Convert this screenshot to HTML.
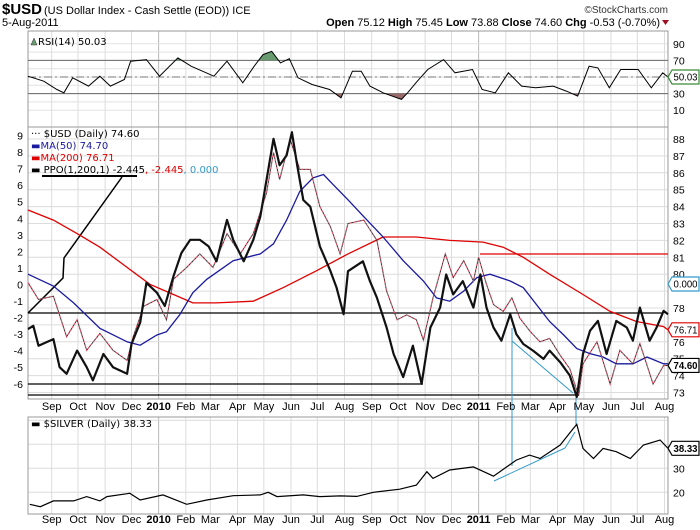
<!DOCTYPE html>
<html><head><meta charset="utf-8"><style>
html,body{margin:0;padding:0;background:#fff;}
svg{display:block;font-family:"Liberation Sans",sans-serif;}
.t{font-size:11px;fill:#000;}
.ax{font-size:10.5px;fill:#000;}
.tg{font-size:10px;fill:#000;}
.lg{font-family:"DejaVu Sans",sans-serif;font-size:10px;}
</style></head><body>
<svg id="chart" width="700" height="530" viewBox="0 0 700 530">
<g>
<text x="2" y="14" style="font-size:15px;font-weight:bold">$USD</text>
<text x="44" y="14" style="font-size:11px">(US Dollar Index - Cash Settle (EOD)) ICE</text>
<text x="668" y="13" text-anchor="end" style="font-size:10px;fill:#333">©StockCharts.com</text>
<text x="2" y="26" style="font-size:11px">5-Aug-2011</text>
<text x="660" y="26" text-anchor="end" style="font-size:11px"><tspan font-weight="bold">Open</tspan> 75.12 <tspan font-weight="bold">High</tspan> 75.45 <tspan font-weight="bold">Low</tspan> 73.88 <tspan font-weight="bold">Close</tspan> 74.60 <tspan font-weight="bold">Chg</tspan> -0.53 (-0.70%)</text>
<polygon points="662,20 669,20 665.5,25" fill="#a01020"/>
</g>
<g id="grid"></g>
<g id="marks"></g>
<g id="axes"></g>
</svg>
<script>
// ---------- data ----------
const startDate = "2009-08-05";
const ppoDays = [0,6,12,29,36,44,56,67,74,86,97,113,118,128,135,147,156,166,175,185,196,206,215,227,234,246,257,265,280,287,295,301,307,314,322,333,345,352,360,365,382,390,398,409,417,428,439,449,459,470,477,485,496,508,516,523,531,540,550,557,565,576,588,595,607,618,626,633,641,650,660,671,683,690,698,709,717,725,730];
const ppoValues = [-2.7,-2.5,-3.7,-3.3,-5.0,-5.4,-4.0,-5.0,-5.8,-4.2,-5.0,-5.4,-3.6,-2.3,0.1,-0.5,-1.3,0.5,1.9,2.7,2.7,2.3,1.4,3.9,2.7,1.4,2.7,4.1,8.8,7.2,7.8,9.2,7.2,5.1,4.7,2.3,0.8,-0.2,-1.8,0.8,1.4,0.2,-0.8,-2.6,-4.2,-5.6,-3.7,-6.0,-2.6,-1.4,0.6,-0.6,0.2,-1.4,0.6,-1.4,-2.6,-3.4,-1.8,-3.0,-3.6,-4.0,-4.5,-4.0,-4.7,-5.5,-6.8,-4.2,-2.8,-2.2,-4.2,-2.2,-2.6,-3.4,-1.4,-3.4,-2.6,-1.6,-1.8];
const priceDays = [0,12,29,44,56,67,82,97,113,120,132,147,158,166,181,196,211,227,242,257,272,280,287,299,310,322,333,345,356,365,383,398,409,421,432,443,451,462,476,485,497,508,514,523,531,542,552,561,573,584,595,607,618,628,633,649,664,675,690,698,713,725,730];
const priceValues = [79.5,78.5,78.7,76.3,77.3,75.5,76.5,75.5,74.9,76.3,78.1,78.5,77.3,79.7,80.4,81.2,80.4,82.4,81.2,82.4,84.8,87.2,85.6,88.0,86.2,86.2,84.0,82.8,81.2,83.0,83.2,82.0,79.0,77.3,77.6,77.3,76.1,78.6,81.2,79.8,80.8,79.6,81.0,79.4,78.2,77.8,78.6,77.4,76.6,76.0,76.2,75.2,74.4,72.8,74.7,76.0,73.5,75.5,74.7,75.9,73.5,74.6,74.6];
const ma50Days = [0,29,52,82,113,128,147,158,173,188,204,234,265,280,295,310,325,337,348,365,383,405,428,451,466,481,497,512,527,550,565,580,595,611,626,641,656,671,690,706,725,730];
const ma50Values = [80.0,79.3,78.3,76.8,76.0,75.8,76.4,76.6,77.6,78.9,79.7,80.8,81.2,81.8,83.2,84.9,85.7,85.9,85.3,84.4,83.4,82.2,80.8,79.6,78.6,78.4,79.0,79.8,80.0,79.6,79.2,78.2,77.2,76.4,75.6,75.3,75.1,74.7,74.7,75.1,74.7,74.7];
const ma200Days = [0,29,56,82,113,139,166,188,215,257,291,329,365,405,443,481,519,542,565,595,633,664,694,725,730];
const ma200Values = [83.8,83.2,82.4,81.6,80.4,79.4,78.8,78.3,78.3,78.4,79.2,80.2,81.2,82.2,82.2,82.0,81.9,81.6,81.0,80.0,78.8,77.8,77.2,76.9,76.71];
const rsiDays = [0,18,33,41,51,69,82,94,110,117,135,150,171,186,212,227,245,258,268,278,288,298,308,324,344,357,370,380,390,405,426,433,444,456,474,487,507,518,533,548,563,579,599,614,627,640,650,663,676,696,711,724,730];
const rsiValues = [51,45,35,31,49,39,51,39,47,69,71,51,73,63,51,69,43,63,77,81,67,72,49,41,35,25,57,57,39,31,23,31,45,59,71,55,59,35,31,55,39,37,39,33,27,63,61,37,59,59,37,55,50];
const silverDays = [2,14,29,52,67,82,90,116,128,154,181,204,234,265,274,284,314,333,356,375,394,424,443,455,462,481,508,531,557,572,584,607,622,626,633,645,656,671,687,702,721,730];
const silverValues = [15,14,16.4,16.4,18.2,16.4,18.2,19.6,16.8,18.9,15,16.8,18.6,18.9,20,18.2,18.9,18.2,18.5,18.3,20,21.3,23,28.6,25.8,29.3,30.6,26.7,33.4,35.5,34.1,39.7,46.6,48.3,38.3,34.1,38.3,36.9,34.1,39.7,41.8,38.3];
const rightTicks = [88,87,86,85,84,83,82,81,80,78,76,75,74,73];
const leftTicks = [9,8,7,6,5,4,3,2,1,0,-1,-2,-3,-4,-5,-6];
const rsiTicks = [90,70,30,10];
const silverTicks = [30,20];
const monthNames = ["Jan","Feb","Mar","Apr","May","Jun","Jul","Aug","Sep","Oct","Nov","Dec"];

// ---------- scales ----------
const X0=28, X1=668, SPAN=730;
const x = d => X0 + d*(X1-X0)/SPAN;
const yMain = p => 139 + (88-p)*16.9;
const yPPO = v => 135.5 + (9-v)*16.55;
const yRSI = v => 77 - (v-50)*0.83;
const yS = v => 444.3 + (40-v)*2.4;
const NS="http://www.w3.org/2000/svg";
const grid=document.getElementById('grid'), marks=document.getElementById('marks'), axes=document.getElementById('axes');
function mk(tag, attrs, parent){const e=document.createElementNS(NS,tag);for(const k in attrs)e.setAttribute(k,attrs[k]);parent.appendChild(e);return e;}
function pts(days, vals, fy){return days.map((d,i)=>x(d).toFixed(1)+','+fy(vals[i]).toFixed(1)).join(' ');}

const panels=[[31,127],[127,399],[417,514]];
const t0=new Date(startDate+"T00:00:00Z").getTime();
for(let y=2009;y<=2011;y++)for(let m=0;m<12;m++){
  const dd=(Date.UTC(y,m,1)-t0)/86400000;
  if(dd<0||dd>SPAN)continue;
  const xx=x(dd);
  panels.forEach(p=>{
    const l=mk('line',{x1:xx,x2:xx,y1:p[0],y2:p[1],stroke:m===0?'#b8b8b8':'#dcdcdc','stroke-width':1},grid);
    
    
  });
  const lab=m===0?String(y):monthNames[m];
  [410,523].forEach(yy=>{
    const t=mk('text',{x:xx,y:yy,'text-anchor':'middle',class:'t'},axes);
    if(m===0)t.setAttribute('font-weight','bold');
    t.textContent=lab;
    
    
  });
}
for(let v=73;v<=88;v++){const l=mk('line',{x1:X0,x2:X1,y1:yMain(v),y2:yMain(v),stroke:'#dcdcdc'},grid);
  }
for(let v=10;v<=90;v+=10){const l=mk('line',{x1:X0,x2:X1,y1:yRSI(v),y2:yRSI(v),stroke:'#e2e2e2'},grid);
  }
for(let v=20;v<=50;v+=10){const l=mk('line',{x1:X0,x2:X1,y1:yS(v),y2:yS(v),stroke:'#dcdcdc'},grid);
  }
panels.forEach(p=>{const r=mk('rect',{x:X0,y:p[0],width:X1-X0,height:p[1]-p[0],fill:'none',stroke:'#999'},grid);
  });

// ---------- RSI ----------
[[70,'#666','none'],[30,'#666','none'],[50,'#777','8,3,2,3']].forEach(a=>{
  const l=mk('line',{x1:X0,x2:X1,y1:yRSI(a[0]),y2:yRSI(a[0]),stroke:a[1],'stroke-dasharray':a[2]},marks);
  
});
const defs=mk('defs',{},marks);
const c1=mk('clipPath',{id:'above70'},defs);mk('rect',{x:X0,y:31,width:640,height:yRSI(70)-31},c1);
const c2=mk('clipPath',{id:'below30'},defs);mk('rect',{x:X0,y:yRSI(30),width:640,height:127-yRSI(30)},c2);
const rp=pts(rsiDays,rsiValues,yRSI);
const f1=mk('polygon',{points:x(0)+','+yRSI(70)+' '+rp+' '+x(730)+','+yRSI(70),fill:'#6a9a70','clip-path':'url(#above70)'},marks);

const f2=mk('polygon',{points:x(0)+','+yRSI(30)+' '+rp+' '+x(730)+','+yRSI(30),fill:'#9a6a6a','clip-path':'url(#below30)'},marks);

const rl=mk('polyline',{points:rp,fill:'none',stroke:'#000','stroke-width':1},marks);


// ---------- annotations ----------
function ln(a,b,c,d,col,w,name){const l=mk('line',{x1:a,y1:b,x2:c,y2:d,stroke:col,'stroke-width':w},marks);
  }
ln(28,313,663,313,'#000',1.2,'resistance-line');
ln(28,384,423,384,'#000',1.2,'support-line-1');
ln(28,395,576,395,'#000',1.2,'support-line-2');
ln(480,254,668,254,'#e00000',1.2,'red-resistance-line');
ln(512,328,512,466,'#3399cc',1,'annotation-vertical-1');
ln(576,395,576,426,'#3399cc',1,'annotation-vertical-2');
ln(512,341,573,393,'#3399cc',1,'annotation-trend-main');
const sig=mk('polyline',{points:'28,313 63,278 64,258 122,177',fill:'none',stroke:'#000','stroke-width':1.5},marks);

ln(42,176,137,176,'#000',2,'ppo-signal-bar');

// ---------- main series ----------
const m200=mk('polyline',{points:pts(ma200Days,ma200Values,yMain),fill:'none',stroke:'#e00000','stroke-width':1.3},marks);

const m50=mk('polyline',{points:pts(ma50Days,ma50Values,yMain),fill:'none',stroke:'#1a1aa0','stroke-width':1.3},marks);

const pr=pts(priceDays,priceValues,yMain);
const p1=mk('polyline',{points:pr,fill:'none',stroke:'#e04860','stroke-width':1.2,'stroke-dasharray':'2,2'},marks);

const p2=mk('polyline',{points:pr,fill:'none',stroke:'#333','stroke-width':1,'stroke-dasharray':'2,2','stroke-dashoffset':2},marks);

const pp=mk('polyline',{points:pts(ppoDays,ppoValues,yPPO),fill:'none',stroke:'#111','stroke-width':2.2,'stroke-linejoin':'round'},marks);


// ---------- silver ----------
ln(494,481,565,448,'#3399cc',1,'annotation-trend-silver');
ln(565,448,575,432,'#3399cc',1,'annotation-trend-silver-2');
ln(576,417,576,426,'#3399cc',1,'annotation-vertical-silver');
const sl=mk('polyline',{points:pts(silverDays,silverValues,yS),fill:'none',stroke:'#000','stroke-width':1.2},marks);


// ---------- axis tick labels ----------
function lab(xx,yy,txt,anchor,name){const t=mk('text',{x:xx,y:yy+4,'text-anchor':anchor,class:'ax'},axes);t.textContent=txt;
  }
rightTicks.forEach(v=>lab(673,yMain(v),String(v),'start','right-axis-label'));
leftTicks.forEach(v=>lab(23,yPPO(v),String(v),'end','left-axis-label'));
rsiTicks.forEach(v=>lab(673,yRSI(v),String(v),'start','rsi-axis-label'));
silverTicks.forEach(v=>lab(673,yS(v),String(v),'start','silver-axis-label'));

function tag(yy,txt,col,bold,name){
  const g=mk('g',{},axes);
  mk('polygon',{points:`668,${yy} 672,${yy-7} 699,${yy-7} 699,${yy+7} 672,${yy+7}`,fill:'#fff',stroke:col,'stroke-width':1.2},g);
  const t=mk('text',{x:673.5,y:yy+3.5,class:'tg',textLength:24,lengthAdjust:'spacingAndGlyphs'},g);
  if(bold)t.setAttribute('font-weight','bold');t.textContent=txt;
}
tag(yRSI(50.03),'50.03','#3a8a3a',false,'rsi-value-tag');
tag(284,'0.000','#3399cc',false,'ppo-hist-tag');
tag(yMain(76.71),'76.71','#e00000',false,'ma200-value-tag');
tag(yMain(74.6),'74.60','#000',true,'close-value-tag');
tag(yS(38.33),'38.33','#000',true,'silver-value-tag');

// ---------- legends ----------
function legend(xx,yy,parts,name){const t=mk('text',{x:xx,y:yy,class:'lg'},axes);
  
  parts.forEach(p=>{const s=mk('tspan',{fill:p[1]},t);s.textContent=p[0];});}
mk('polygon',{points:'31,45 34,38 37,45',fill:'#6a9a70',stroke:'#333','stroke-width':0.5},axes);
legend(38,45,[['RSI(14) 50.03','#000']],'rsi-legend');
legend(31,137,[['··· $USD (Daily) 74.60','#000']],'legend-usd');
legend(31,149,[['▬','#1a1aa0'],['MA(50) 74.70','#1a1aa0']],'legend-ma50');
legend(31,161,[['▬','#e00000'],['MA(200) 76.71','#e00000']],'legend-ma200');
legend(31,173,[['▬ PPO(1,200,1) -2.445','#000'],[', -2.445','#e00000'],[', 0.000','#3399cc']],'legend-ppo');
legend(31,427,[['▬ $SILVER (Daily) 38.33','#000']],'legend-silver');
</script>
</body></html>
